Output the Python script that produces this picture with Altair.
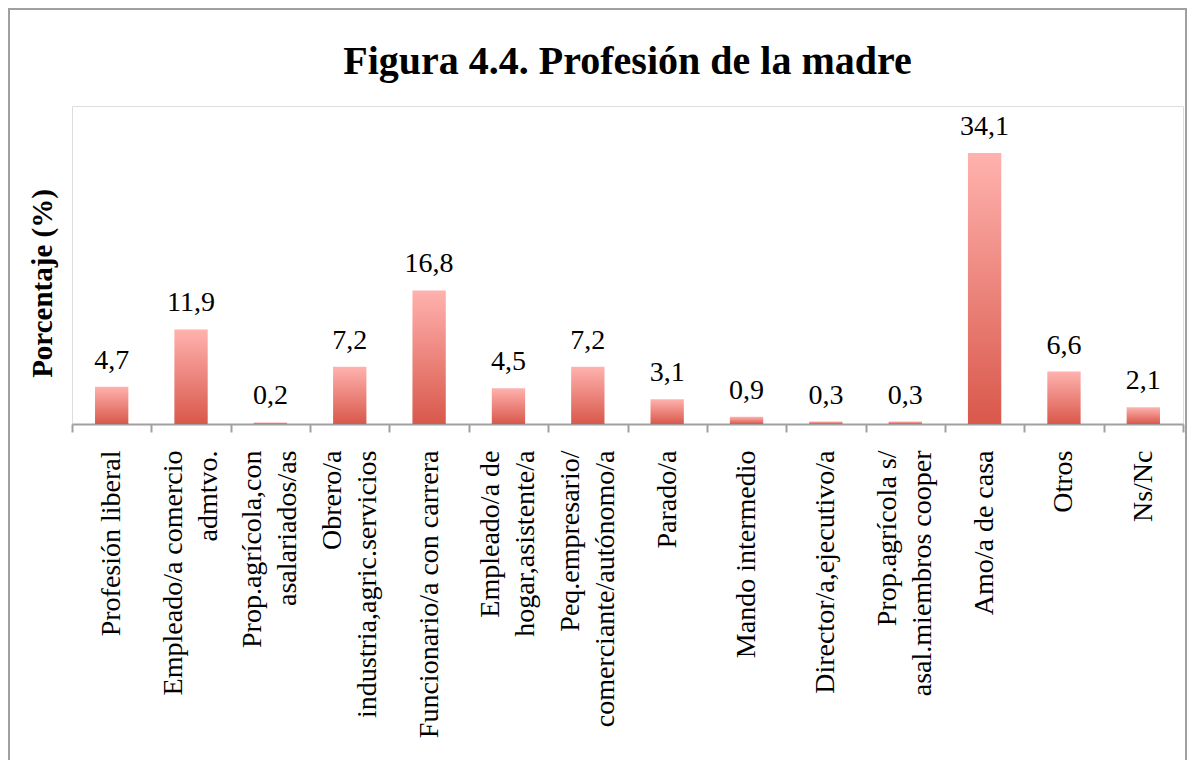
import altair as alt
import pandas as pd

categorias = [
    "Profesión liberal",
    "Empleado/a comercio\nadmtvo.",
    "Prop.agrícola,con\nasalariados/as",
    "Obrero/a\nindustria,agric.servicios",
    "Funcionario/a con carrera",
    "Empleado/a de\nhogar,asistente/a",
    "Peq.empresario/\ncomerciante/autónomo/a",
    "Parado/a",
    "Mando intermedio",
    "Director/a,ejecutivo/a",
    "Prop.agrícola s/\nasal.miembros cooper",
    "Amo/a de casa",
    "Otros",
    "Ns/Nc",
]
porcentajes = [4.7, 11.9, 0.2, 7.2, 16.8, 4.5, 7.2, 3.1, 0.9, 0.3, 0.3, 34.1, 6.6, 2.1]

df = pd.DataFrame({"cat": categorias, "v": porcentajes})

FONT = "Liberation Serif"
LH = 35

x_enc = alt.X(
    "cat:N",
    sort=None,
    scale=alt.Scale(paddingInner=0, paddingOuter=0),
    axis=alt.Axis(
        title=None,
        labelExpr="isValid(datum.value) ? split(datum.value, '\\n') : ''",
        labelAngle=270,
        labelAlign="right",
        labelBaseline="middle",
        labelFont=FONT,
        labelFontSize=28,
        labelLineHeight=LH,
        labelColor="#000000",
        labelPadding=18,
        labelLimit=0,
        labelOverlap=False,
        labelOffset={
            "condition": {"test": "isValid(datum.value) && indexof(datum.value, '\\n') >= 0",
                          "value": -LH / 2},
            "value": 0,
        },
        tickBand="extent",
        tickSize=8,
        tickColor="#A0A0A0",
        tickWidth=2,
        domainColor="#A0A0A0",
        domainWidth=2,
    ),
)
y_enc = alt.Y(
    "v:Q",
    scale=alt.Scale(domain=[0, 40], nice=False),
    axis=alt.Axis(
        title="Porcentaje (%)",
        titleFont=FONT,
        titleFontSize=29,
        titleFontWeight="bold",
        titleColor="#000000",
        titleX=-15,
        titleY=177,
        labels=False,
        ticks=False,
        domain=False,
        grid=False,
    ),
)

grad = alt.Gradient(
    gradient="linear",
    stops=[
        alt.GradientStop(color="#FFB2AE", offset=0),
        alt.GradientStop(color="#D9584B", offset=1),
    ],
    x1=0, x2=0, y1=0, y2=1,
)

bars = (
    alt.Chart(df)
    .mark_bar(color=grad, width=alt.RelativeBandSize(0.42))
    .encode(x=x_enc, y=y_enc)
)

text = (
    alt.Chart(df)
    .transform_calculate(lbl="replace(format(datum.v, '.1f'), '.', ',')")
    .mark_text(font=FONT, fontSize=28, color="#000000", baseline="alphabetic", dy=-18)
    .encode(x=alt.X("cat:N", sort=None), y="v:Q", text="lbl:N")
)

frame = (
    alt.Chart(pd.DataFrame({"k": [0]}))
    .mark_rect(fillOpacity=0, stroke="#A0A0A0", strokeWidth=2)
    .encode(x=alt.value(-63), x2=alt.value(1114), y=alt.value(-97), y2=alt.value(700))
)

chart = (
    alt.layer(frame, bars, text)
    .properties(
        width=1111,
        height=318,
        autosize=alt.AutoSizeParams(type="none"),
        padding={"left": 64, "top": 98, "right": 4, "bottom": 336},
        title=alt.TitleParams(
            "Figura 4.4. Profesión de la madre",
            font=FONT,
            fontSize=40,
            fontWeight="bold",
            color="#000000",
            anchor="middle",
            offset=-74,
        ),
    )
    .configure_view(stroke=None)
    .configure(background="white")
)

chart.save("out.html", embed_options={"renderer": "svg", "actions": False})
